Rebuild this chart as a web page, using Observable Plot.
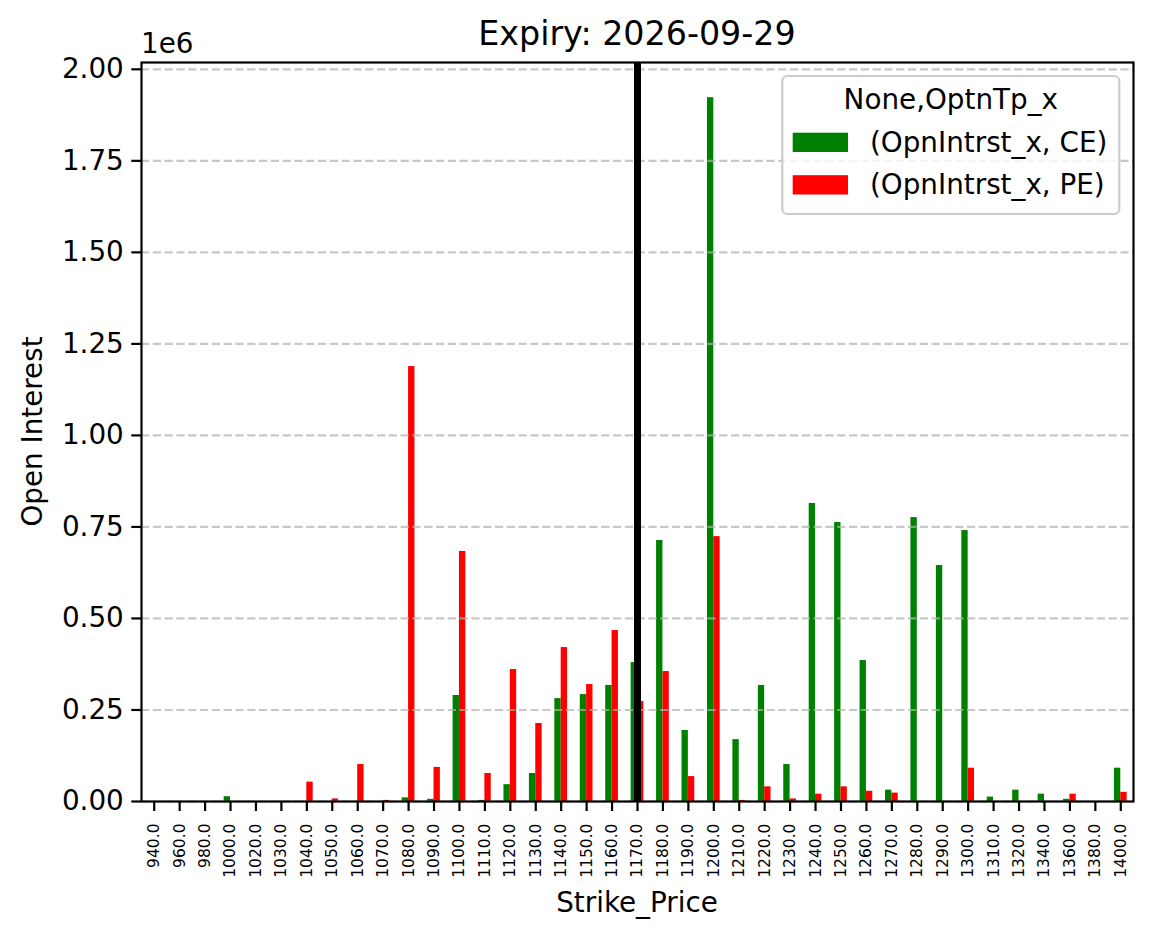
<!DOCTYPE html>
<html>
<head>
<meta charset="utf-8">
<script src="https://cdn.jsdelivr.net/npm/d3@7"></script>
<script src="https://cdn.jsdelivr.net/npm/@observablehq/plot@0.6"></script>
<style>
  html, body { margin: 0; padding: 0; background: #fff; }
  svg { display: block; }
</style>
</head>
<body>
<div id="chart"></div>
<script>
// ---- data ----
const strikes = [940, 960, 980, 1000, 1020, 1030, 1040, 1050, 1060, 1070, 1080, 1090,
  1100, 1110, 1120, 1130, 1140, 1150, 1160, 1170, 1180, 1190, 1200, 1210, 1220, 1230,
  1240, 1250, 1260, 1270, 1280, 1290, 1300, 1310, 1320, 1340, 1360, 1380, 1400];
const ceOI = [0, 0, 0, 13000, 0, 0, 0, 0, 0, 0, 10000, 6000,
  289500, 3000, 46000, 76500, 281000, 292000, 317000, 379500, 713000, 194000, 1922500, 169000, 317000, 101000,
  814000, 762000, 385000, 31000, 775500, 644500, 740000, 12000, 31000, 20000, 6000, 0, 91000];
const peOI = [0, 0, 0, 0, 0, 0, 53000, 7000, 101000, 3000, 1188000, 93000,
  683000, 76500, 360500, 213000, 420500, 319500, 467000, 273000, 355000, 68000, 723500, 3000, 40000, 7000,
  20000, 40000, 28000, 23000, 0, 0, 91000, 0, 0, 0, 20000, 0, 25000];
const seriesNames = ["CE", "PE"];
const legendLabels = ["(OpnIntrst_x, CE)", "(OpnIntrst_x, PE)"];
const legendTitle = "None,OptnTp_x";
const seriesColors = ["#008000", "#ff0000"];
const spotStrike = 1170;
const yTicks = [0, 250000, 500000, 750000, 1000000, 1250000, 1500000, 1750000, 2000000];
const chartTitle = "Expiry: 2026-09-29";
const xLabel = "Strike_Price";
const yLabel = "Open Interest";
const yOffsetText = "1e6";

// ---- build table ----
const rows = strikes.flatMap((s, i) => [
  {i, strike: s, type: seriesNames[0], v: ceOI[i], x1: i - 0.25, x2: i},
  {i, strike: s, type: seriesNames[1], v: peOI[i], x1: i, x2: i + 0.25}
]);
const spotIndex = strikes.indexOf(spotStrike);
const yMax = d3.max([...ceOI, ...peOI]) * 1.05;

const W = 1152, H = 939;
const mL = 141, mR = 19, mT = 62, mB = 138;
const FONT = "DejaVu Sans, sans-serif";

const plot = Plot.plot({
  width: W,
  height: H,
  marginLeft: mL,
  marginRight: mR,
  marginTop: mT,
  marginBottom: mB,
  style: {fontFamily: FONT, background: "#fff", color: "#000", overflow: "visible"},
  x: {type: "linear", domain: [-0.5, strikes.length - 0.5]},
  y: {type: "linear", domain: [0, yMax]},
  color: {domain: seriesNames, range: seriesColors},
  marks: [
    Plot.rectY(rows, {x1: "x1", x2: "x2", y: "v", fill: "type"}),
    Plot.gridY(yTicks, {stroke: "#b0b0b0", strokeOpacity: 0.7, strokeWidth: 2.2, strokeDasharray: "8.2,3.6"}),
    Plot.ruleX([spotIndex], {stroke: "#000", strokeWidth: 7}),
    Plot.axisY(yTicks, {
      tickFormat: d => (d / 1e6).toFixed(2),
      fontSize: 27.8, tickSize: 9.7, tickPadding: 8, strokeWidth: 2.2, label: null
    }),
    Plot.axisX(d3.range(strikes.length), {
      tickFormat: i => strikes[i].toFixed(1),
      tickRotate: -90, fontSize: 15.5, tickSize: 10, tickPadding: 12, strokeWidth: 2.2, label: null
    }),
    Plot.frame({stroke: "#000", strokeWidth: 2.2})
  ]
});

document.getElementById("chart").appendChild(plot);
const svg = d3.select(plot);

// title
svg.append("text").attr("x", (mL + W - mR) / 2).attr("y", 45)
  .attr("text-anchor", "middle").attr("font-size", 33.3).attr("font-family", FONT)
  .attr("fill", "#000").text(chartTitle);
// offset text
svg.append("text").attr("x", 141).attr("y", 53).attr("text-anchor", "start")
  .attr("font-size", 27.8).attr("font-family", FONT).attr("fill", "#000").text(yOffsetText);
// x label
svg.append("text").attr("x", (mL + W - mR) / 2).attr("y", 912)
  .attr("text-anchor", "middle").attr("font-size", 27.8).attr("font-family", FONT)
  .attr("fill", "#000").text(xLabel);
// y label
svg.append("text").attr("transform", `translate(41.7,${(mT + H - mB) / 2}) rotate(-90)`)
  .attr("text-anchor", "middle").attr("font-size", 27.8).attr("font-family", FONT)
  .attr("fill", "#000").text(yLabel);

// legend
const lg = svg.append("g");
lg.append("rect").attr("x", 782.3).attr("y", 76).attr("width", 337).attr("height", 138)
  .attr("rx", 5).attr("fill", "#fff").attr("fill-opacity", 0.8)
  .attr("stroke", "#cccccc").attr("stroke-width", 2.2);
lg.append("text").attr("x", 950.8).attr("y", 109.3).attr("text-anchor", "middle")
  .attr("font-size", 27.8).attr("font-family", FONT).attr("fill", "#000").text(legendTitle);
seriesNames.forEach((s, k) => {
  const top = 132.7 + k * 42.5;
  lg.append("rect").attr("x", 792.7).attr("y", top).attr("width", 55.3).attr("height", 19.3)
    .attr("fill", seriesColors[k]);
  lg.append("text").attr("x", 870).attr("y", top + 19).attr("text-anchor", "start")
    .attr("font-size", 27.8).attr("font-family", FONT).attr("fill", "#000").text(legendLabels[k]);
});
</script>
</body>
</html>
